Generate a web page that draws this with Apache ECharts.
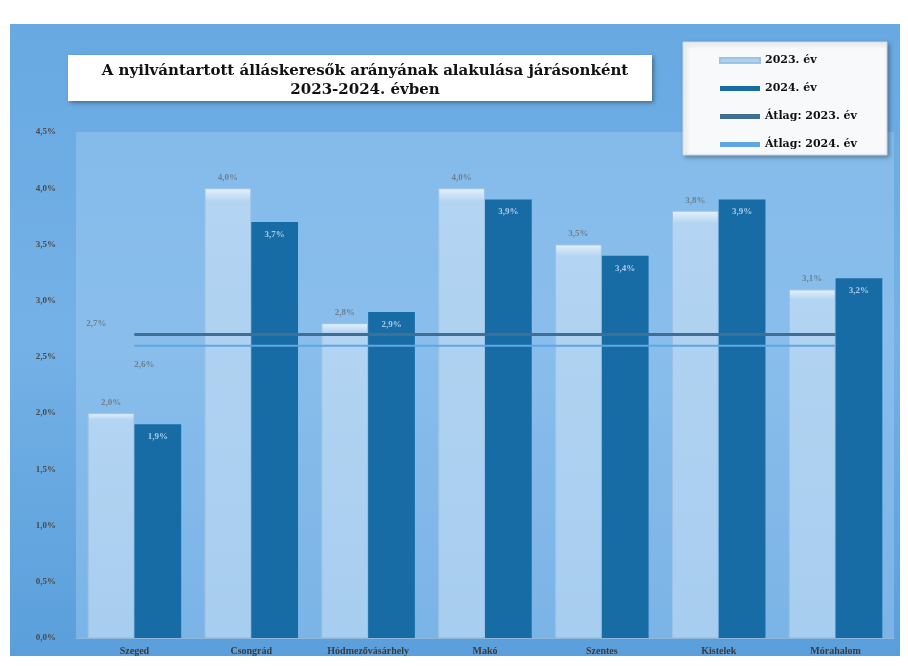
<!DOCTYPE html>
<html><head><meta charset="utf-8">
<script src="https://cdn.jsdelivr.net/npm/echarts@6/dist/echarts.min.js"></script>
<style>html,body{margin:0;padding:0;background:#fff}#c{width:908px;height:666px}</style>
</head><body><div id="c"></div>
<script>
const categories = ['Szeged','Csongrád','Hódmezővásárhely','Makó','Szentes','Kistelek','Mórahalom'];
const values2023 = [2.0, 4.0, 2.8, 4.0, 3.5, 3.8, 3.1];
const values2024 = [1.9, 3.7, 2.9, 3.9, 3.4, 3.9, 3.2];
const avg2023 = [2.7, 2.7, 2.7, 2.7, 2.7, 2.7, 2.7];
const avg2024 = [2.6, 2.6, 2.6, 2.6, 2.6, 2.6, 2.6];
const seriesNames = ['2023. év','2024. év','Átlag: 2023. év','Átlag: 2024. év'];
const yTicks = {min:0, max:4.5, interval:0.5};
const titleLines = ['A nyilvántartott álláskeresők arányának alakulása járásonként','2023-2024. évben'];

const pct = v => v.toFixed(1).replace('.', ',') + '%';
const serif = 'Liberation Serif';
const chart = echarts.init(document.getElementById('c'));
chart.setOption({
  backgroundColor:'#ffffff',
  animation:false,
  graphic:[
    {type:'rect', z:-10, shape:{x:10,y:24,width:890,height:632},
     style:{fill:new echarts.graphic.LinearGradient(0,0,0,1,[{offset:0,color:'#68a9e2'},{offset:0.5,color:'#74b1e6'},{offset:1,color:'#5a9fdb'}])}},
    {type:'rect', z:5, shape:{x:68,y:55,width:584,height:46},
     style:{fill:'#ffffff', shadowBlur:4, shadowColor:'rgba(0,0,0,0.35)', shadowOffsetX:2, shadowOffsetY:2}},
    {type:'rect', z:5, shape:{x:683,y:42,width:204,height:113},
     style:{fill:'#f7f9fb', stroke:'#c8d6e4', lineWidth:1, shadowBlur:4, shadowColor:'rgba(0,0,0,0.3)', shadowOffsetX:2, shadowOffsetY:2}}
  ],
  title:{
    text:titleLines.join('\n'), left:360, top:57, textAlign:'center', z:10,
    textStyle:{fontFamily:'DejaVu Serif', fontWeight:'bold', fontSize:15, color:'#111', lineHeight:19}
  },
  legend:{
    orient:'vertical', left:714, top:50, itemGap:17, itemWidth:40, itemHeight:5,
    textStyle:{fontFamily:'DejaVu Serif', fontWeight:'bold', fontSize:11, color:'#111'},
    data:[
      {name:seriesNames[0], icon:'rect'},
      {name:seriesNames[1], icon:'rect'},
      {name:seriesNames[2], icon:'rect'},
      {name:seriesNames[3], icon:'rect'}
    ], z:10
  },
  grid:{left:76, right:14, top:132, bottom:28, show:true, backgroundColor:'rgba(170,210,244,0.4)', borderWidth:0},
  xAxis:{
    type:'category', data:categories,
    axisLine:{show:true, lineStyle:{color:'#8fb7dc'}}, axisTick:{show:false},
    axisLabel:{fontFamily:serif, fontWeight:'bold', fontSize:10, color:'#3b3b3b', margin:8}
  },
  yAxis:{
    type:'value', min:yTicks.min, max:yTicks.max, interval:yTicks.interval,
    axisLine:{show:false}, axisTick:{show:false},
    splitLine:{show:false},
    axisLabel:{fontFamily:serif, fontWeight:'bold', fontSize:9, color:'#4a4a4a', margin:20, formatter:v=>pct(v)}
  },
  series:[
    {name:seriesNames[0], type:'bar', data:values2023, barGap:'0%', barCategoryGap:'20%',
     itemStyle:{color:new echarts.graphic.LinearGradient(0,0,0,1,[{offset:0,color:'#e6f2fc'},{offset:0.03,color:'#b3d4f2'},{offset:1,color:'#a7cdef'}]), borderColor:'#9cc2e6', borderWidth:1},
     label:{show:true, position:'top', distance:6, fontFamily:serif, fontWeight:'bold', fontSize:9, color:'#6f7f8e', formatter:p=>pct(p.value)}},
    {name:seriesNames[1], type:'bar', data:values2024,
     itemStyle:{color:'#186ca6'},
     label:{show:true, position:'insideTop', distance:8, fontFamily:serif, fontWeight:'bold', fontSize:9, color:'#a9cbe6', formatter:p=>pct(p.value)}},
    {name:seriesNames[2], type:'line', data:avg2023, symbol:'circle', symbolSize:1, showSymbol:true, z:4,
     lineStyle:{color:'#3f6f95', width:3}, itemStyle:{color:'#3f6f95'},
     label:{show:true, position:'top', distance:6, offset:[-38,0], fontFamily:serif, fontWeight:'bold', fontSize:9, color:'#6f7f8e',
       formatter:p=>p.dataIndex===0?pct(p.value):''}},
    {name:seriesNames[3], type:'line', data:avg2024, symbol:'circle', symbolSize:1, showSymbol:true, z:4,
     lineStyle:{color:'#5fa7e4', width:2}, itemStyle:{color:'#5fa7e4'},
     label:{show:true, position:'bottom', distance:14, offset:[10,0], fontFamily:serif, fontWeight:'bold', fontSize:9, color:'#6f7f8e',
       formatter:p=>p.dataIndex===0?pct(p.value):''}}
  ]
});
</script></body></html>
